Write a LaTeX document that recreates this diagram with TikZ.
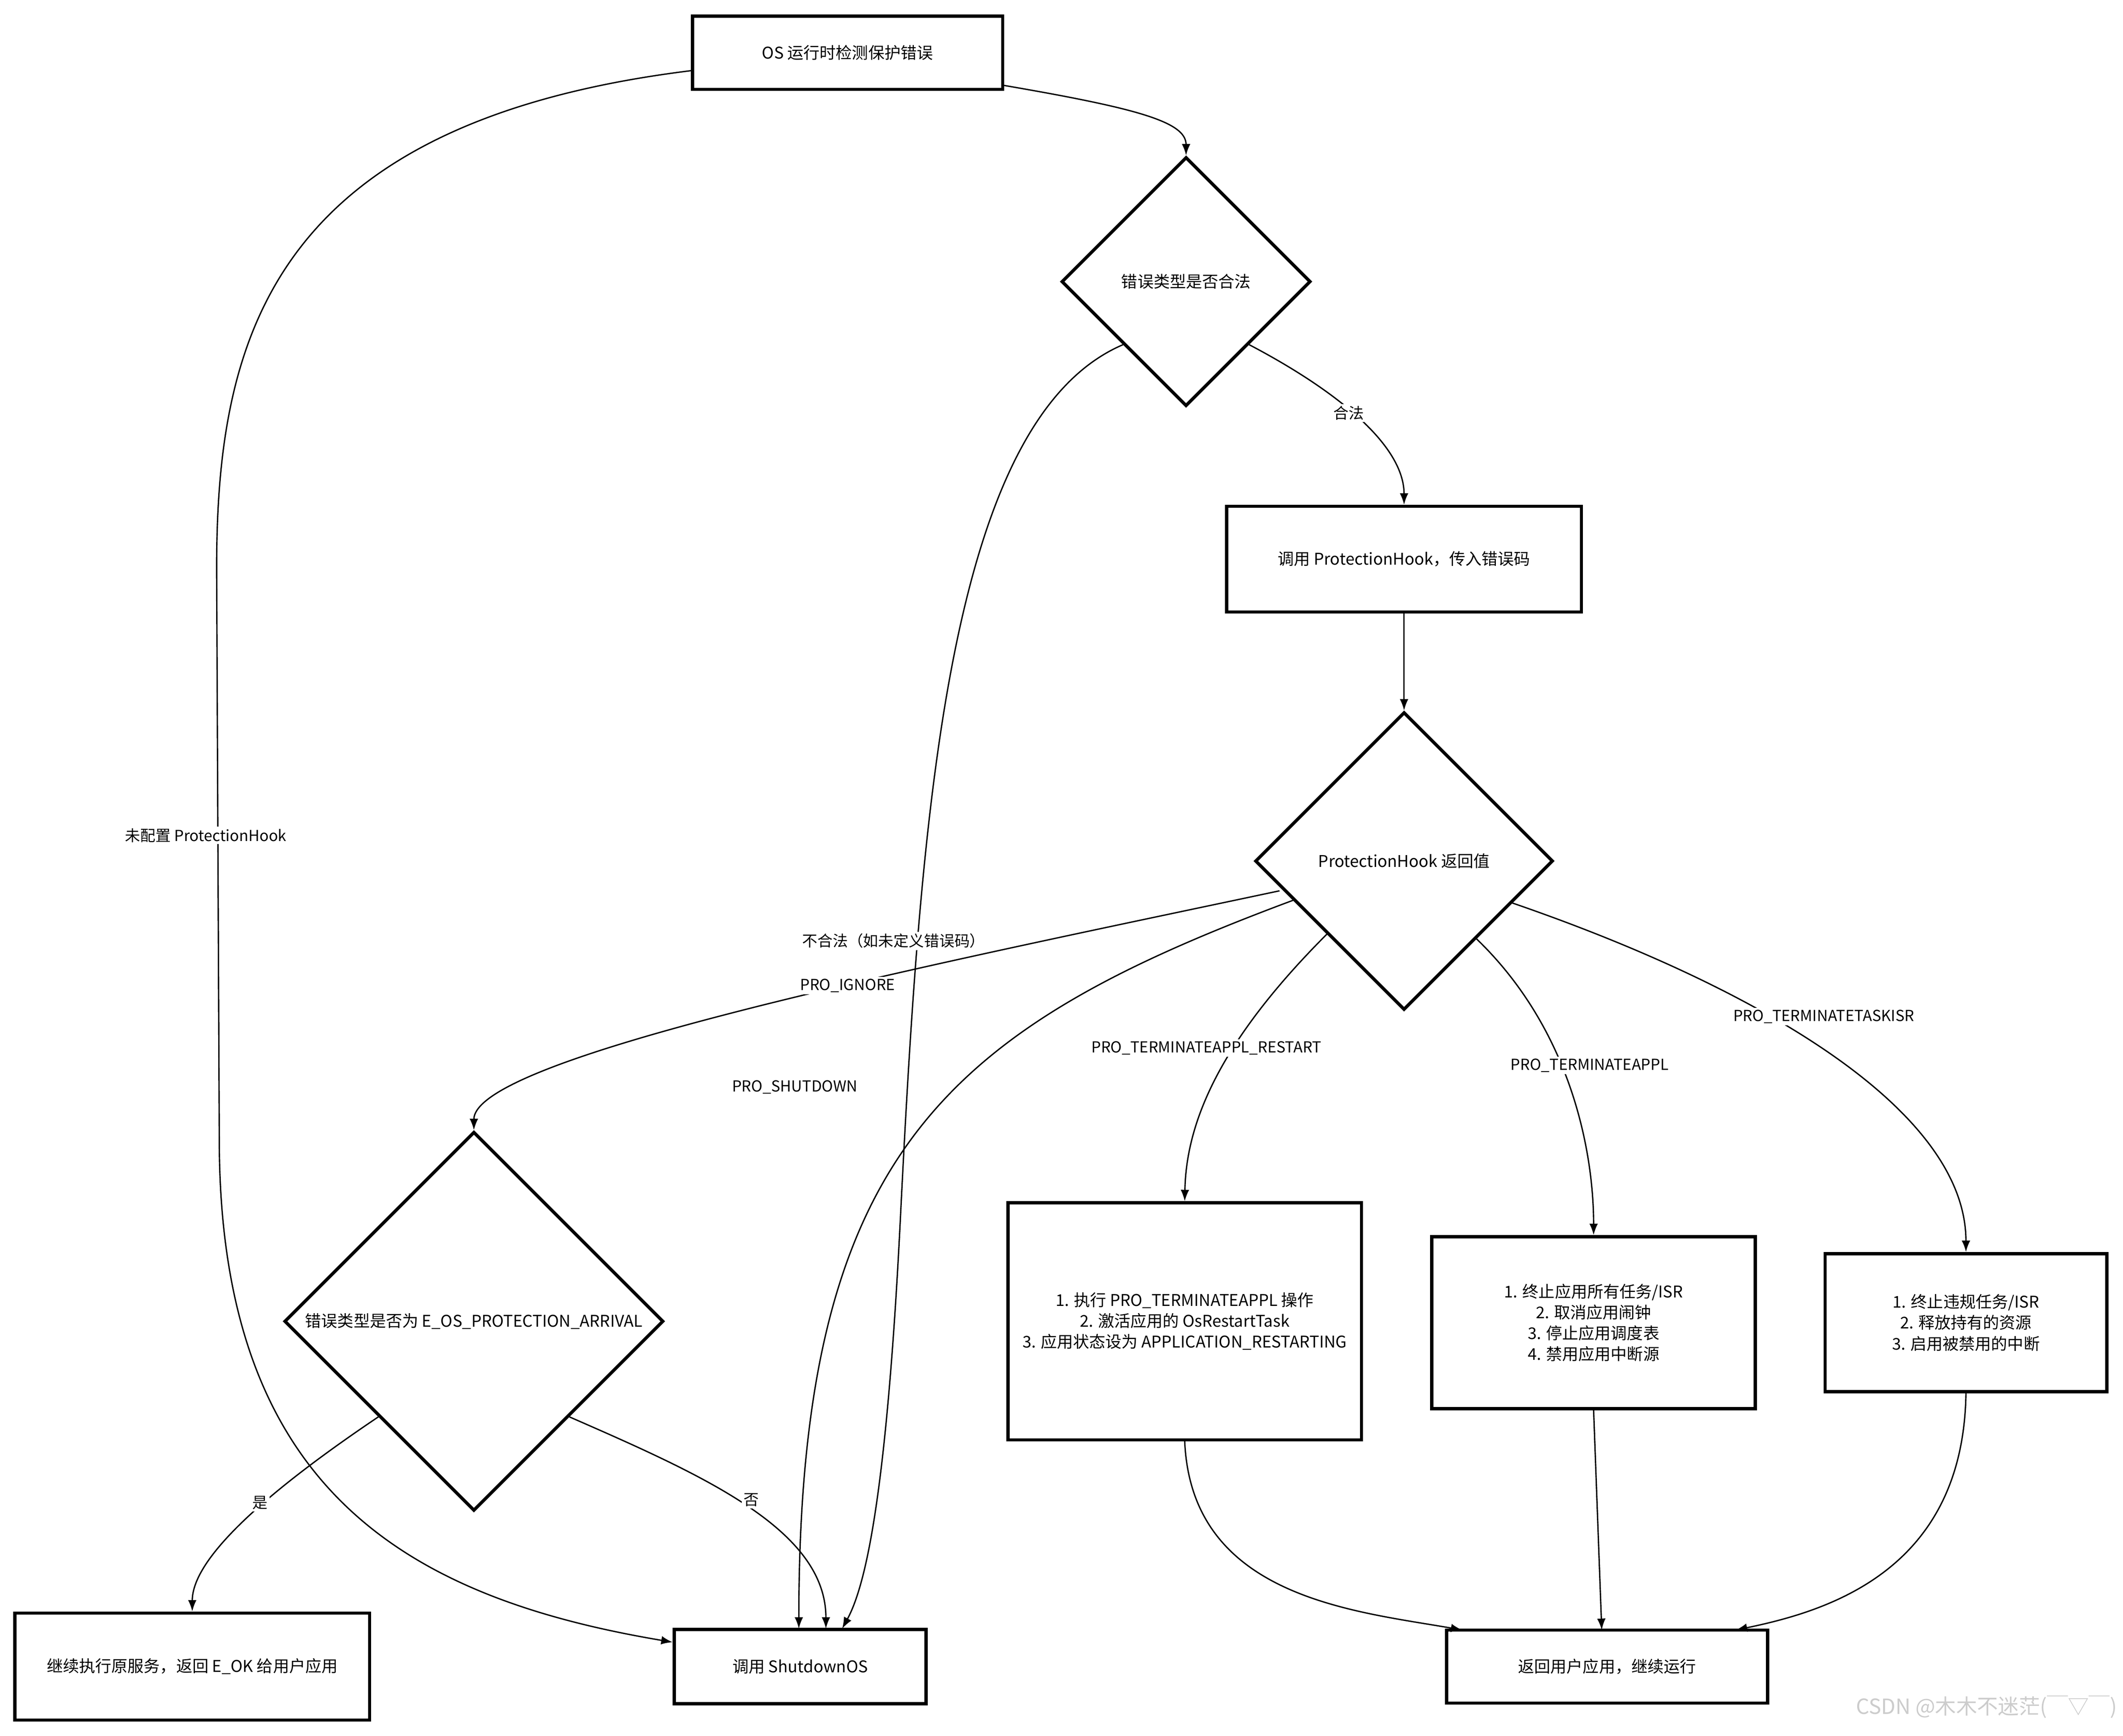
\documentclass[tikz,border=0pt]{standalone}
\usepackage{fontspec}
\setmainfont{Noto Sans CJK SC}
\usetikzlibrary{shapes.geometric,arrows.meta}
\begin{document}
\begin{tikzpicture}[x=0.05cm,y=-0.05cm,
  box/.style={draw,line width=3.4pt,inner sep=0,align=center,font=\fontsize{17}{22}\selectfont},
  dia/.style={draw,line width=3.4pt,diamond,inner sep=0,minimum width=#1,minimum height=#1},
  lab/.style={font=\fontsize{17}{22}\selectfont,align=center},
  edge/.style={draw,line width=1.4pt,-{Latex[length=12pt,width=9pt]}},
  el/.style={fill=white,inner sep=2pt,font=\fontsize{16}{20}\selectfont}]
\useasboundingbox (0,0) rectangle (1568,1282);
\fill[white] (0,0) rectangle (1568,1282);
\node[box,minimum width=229*0.05cm,minimum height=54*0.05cm] (os) at (626,39) {OS 运行时检测保护错误};
\node[dia=184*0.05cm] (d1) at (876,208) {};
\node[lab] at (876,208) {错误类型是否合法};
\node[box,minimum width=262*0.05cm,minimum height=78*0.05cm] (hook) at (1037,413) {调用 ProtectionHook，传入错误码};
\node[dia=220*0.05cm] (d2) at (1037,636) {};
\node[lab] at (1037,636) {ProtectionHook 返回值};
\node[dia=280*0.05cm] (d3) at (350,976) {};
\node[lab] at (350,976) {错误类型是否为 E\_OS\_PROTECTION\_ARRIVAL};
\node[box,minimum width=261*0.05cm,minimum height=175*0.05cm] (rs) at (875,976) {1. 执行 PRO\_TERMINATEAPPL 操作\\2. 激活应用的 OsRestartTask\\3. 应用状态设为 APPLICATION\_RESTARTING};
\node[box,minimum width=239*0.05cm,minimum height=127*0.05cm] (ap) at (1177,977) {1. 终止应用所有任务/ISR\\2. 取消应用闹钟\\3. 停止应用调度表\\4. 禁用应用中断源};
\node[box,minimum width=208*0.05cm,minimum height=102*0.05cm] (ti) at (1452,977) {1. 终止违规任务/ISR\\2. 释放持有的资源\\3. 启用被禁用的中断};
\node[box,minimum width=262*0.05cm,minimum height=79*0.05cm] (ct) at (142,1231) {继续执行原服务，返回 E\_OK 给用户应用};
\node[box,minimum width=186*0.05cm,minimum height=55*0.05cm] (sd) at (591,1231) {调用 ShutdownOS};
\node[box,minimum width=237*0.05cm,minimum height=54*0.05cm] (rt) at (1187,1231) {返回用户应用，继续运行};
\coordinate (a1) at (512,52);
\coordinate (a2) at (741,63);
\path[edge] (a2) .. controls (840,80) and (876,90) .. (d1.north);
\path[edge] (a1) .. controls (200,90) and (160,250) .. (160,420) -- (162,850) .. controls (165,1100) and (300,1180) .. (sd.west |- 0,1213);
\node[el] at (152,617) {未配置 ProtectionHook};
\path[edge] (d1.south west) .. controls (700,310) and (680,600) .. (665,900) .. controls (655,1100) and (640,1170) .. (622,1203);
\node[el] at (660,695) {不合法（如未定义错误码）};
\path[edge] (d1.south east) .. controls (990,290) and (1037,330) .. (hook.north);
\node[el] at (996,305) {合法};
\path[edge] (hook.south) -- (d2.north);
\path[edge] (945,658) .. controls (700,710) and (350,780) .. (d3.north);
\node[el] at (626,728) {PRO\_IGNORE};
\path[edge] (955,665) .. controls (700,760) and (590,850) .. (590,1203);
\node[el] at (587,803) {PRO\_SHUTDOWN};
\path[edge] (980,690) .. controls (900,770) and (876,830) .. (rs.north);
\node[el] at (891,774) {PRO\_TERMINATEAPPL\_RESTART};
\path[edge] (1090,693) .. controls (1160,760) and (1177,850) .. (ap.north);
\node[el] at (1174,787) {PRO\_TERMINATEAPPL};
\path[edge] (1117,667) .. controls (1300,730) and (1452,820) .. (ti.north);
\node[el] at (1347,751) {PRO\_TERMINATETASKISR};
\path[edge] (d3.south west) .. controls (200,1100) and (142,1150) .. (ct.north);
\node[el] at (192,1110) {是};
\path[edge] (d3.south east) .. controls (520,1090) and (610,1130) .. (610,1203);
\node[el] at (555,1108) {否};
\path[edge] (rs.south) .. controls (880,1180) and (1000,1190) .. (1080,1204);
\path[edge] (ap.south) -- (1183,1204);
\path[edge] (ti.south) .. controls (1450,1160) and (1350,1190) .. (1282,1204);
\node[font=\fontsize{22}{26}\selectfont,text=black!20,anchor=east] at (1566,1261) {CSDN @木木不迷茫(￣▽￣)};
\end{tikzpicture}
\end{document}
